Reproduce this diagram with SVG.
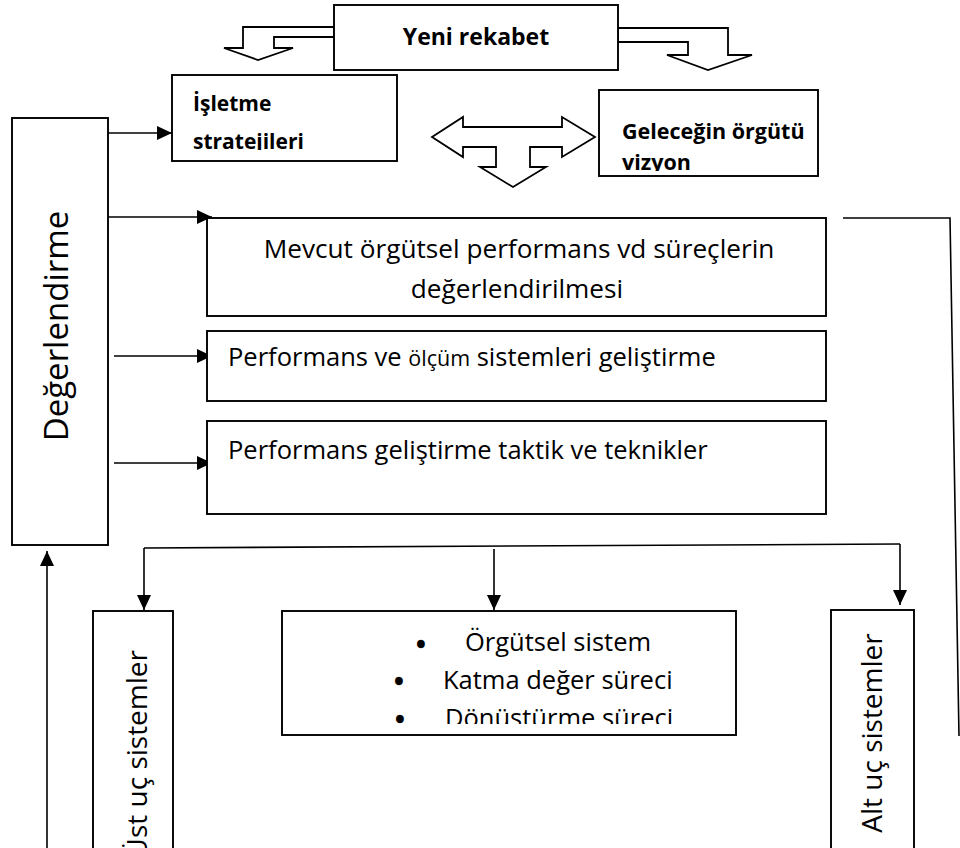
<svg xmlns="http://www.w3.org/2000/svg" width="960" height="848" viewBox="0 0 960 848">
<defs>
<style>
.box{fill:#fff;stroke:#000;stroke-width:1.9}
.hol{fill:#fff;stroke:#000;stroke-width:1.8;stroke-linejoin:miter}
.ln{fill:none;stroke:#000;stroke-width:1.6}
.t{font-family:"Open Sans","Liberation Sans",sans-serif;font-size:25.5px;fill:#000}
.b{font-family:"Open Sans","Liberation Sans",sans-serif;font-weight:bold;font-size:21px;fill:#000}
.bul{font-family:"Open Sans","Liberation Sans",sans-serif;font-size:26px;fill:#000;stroke:#000;stroke-width:2.4}
</style>
<marker id="ah" markerWidth="15" markerHeight="14" refX="15" refY="7" orient="auto" markerUnits="userSpaceOnUse">
<path d="M0,0 L15,7 L0,14 z" fill="#000"/>
</marker>
<clipPath id="c1"><rect x="172" y="75" width="225" height="75"/></clipPath>
<clipPath id="c2"><rect x="599" y="90" width="219" height="81"/></clipPath>
<clipPath id="c3"><rect x="282" y="611" width="454" height="113"/></clipPath>
</defs>
<rect width="960" height="848" fill="#fff"/>

<g id="connectors">
<polygon class="hol" points="334,27 243,27 243,48 224,48 258,60 293,48 274,48 274,37 334,37"/>
<polygon class="hol" points="618,28 728,28 728,55 752,55 708,70 667,55 688,55 688,42 618,42"/>
<polygon class="hol" points="432,137 463,117 463,127 562,127 562,117 595,137 562,157 562,147 530,147 530,167 546,167 513,187 480,167 496,167 496,147 463,147 463,157"/>
<line class="ln" x1="88" y1="133" x2="172" y2="133" marker-end="url(#ah)"/>
<line class="ln" x1="108" y1="217" x2="212" y2="217" marker-end="url(#ah)"/>
<line class="ln" x1="114" y1="356" x2="212" y2="356" marker-end="url(#ah)"/>
<line class="ln" x1="114" y1="463" x2="212" y2="463" marker-end="url(#ah)"/>
<line class="ln" x1="47" y1="848" x2="47" y2="551" marker-end="url(#ah)"/>
<line class="ln" x1="144" y1="548" x2="900" y2="544"/>
<line class="ln" x1="144" y1="548" x2="144" y2="610" marker-end="url(#ah)"/>
<line class="ln" x1="494" y1="549" x2="494" y2="610" marker-end="url(#ah)"/>
<line class="ln" x1="900" y1="544" x2="900" y2="605" marker-end="url(#ah)"/>
<polyline class="ln" points="843,218 950,218 959,736"/>
</g>

<g id="yeni">
<rect class="box" x="334" y="5" width="284" height="65"/>
<text class="b" x="476" y="45" text-anchor="middle" style="font-size:23px">Yeni rekabet</text>
</g>

<g id="isletme">
<rect class="box" x="172" y="75" width="225" height="86"/>
<g clip-path="url(#c1)">
<text class="b" x="193" y="111">İşletme</text>
<text class="b" x="193" y="149">stratejileri</text>
</g>
</g>

<g id="gelecek">
<rect class="box" x="599" y="90" width="219" height="86"/>
<g clip-path="url(#c2)">
<text class="b" x="622" y="139" style="font-size:21.5px">Geleceğin örgütü</text>
<text class="b" x="622" y="170" style="font-size:21.5px">vizyon</text>
</g>
</g>

<g id="degerlendirme">
<rect class="box" x="12" y="118" width="96" height="427"/>
<text class="t" transform="translate(68,326) rotate(-90)" text-anchor="middle" style="font-size:33px">Değerlendirme</text>
</g>

<g id="mevcut">
<rect class="box" x="207" y="218" width="619" height="98"/>
<text class="t" x="519" y="258" text-anchor="middle" style="font-size:26.2px">Mevcut örgütsel performans vd süreçlerin</text>
<text class="t" x="517" y="298" text-anchor="middle" style="font-size:26.2px">değerlendirilmesi</text>
</g>

<g id="olcum">
<rect class="box" x="207" y="331" width="619" height="70"/>
<text class="t" x="228" y="366">Performans ve <tspan style="font-size:21.5px">ölçüm</tspan> sistemleri geliştirme</text>
</g>

<g id="taktik">
<rect class="box" x="207" y="421" width="619" height="93"/>
<text class="t" x="228" y="459">Performans geliştirme taktik ve teknikler</text>
</g>

<g id="ust">
<rect class="box" x="93" y="611" width="80" height="250"/>
<text class="t" transform="translate(147,650) rotate(-90)" text-anchor="end" style="font-size:28px">Üst uç sistemler</text>
</g>

<g id="orgutsel">
<rect class="box" x="282" y="611" width="454" height="124"/>
<g clip-path="url(#c3)">
<text class="bul" x="416" y="653">•</text>
<text class="t" x="465" y="651">Örgütsel sistem</text>
<text class="bul" x="394" y="690">•</text>
<text class="t" x="443" y="689">Katma değer süreci</text>
<text class="bul" x="395" y="728">•</text>
<text class="t" x="445" y="727">Dönüştürme süreci</text>
</g>
</g>

<g id="alt">
<rect class="box" x="831" y="610" width="83" height="250"/>
<text class="t" transform="translate(882,733) rotate(-90)" text-anchor="middle" style="font-size:28px">Alt uç sistemler</text>
</g>
</svg>
